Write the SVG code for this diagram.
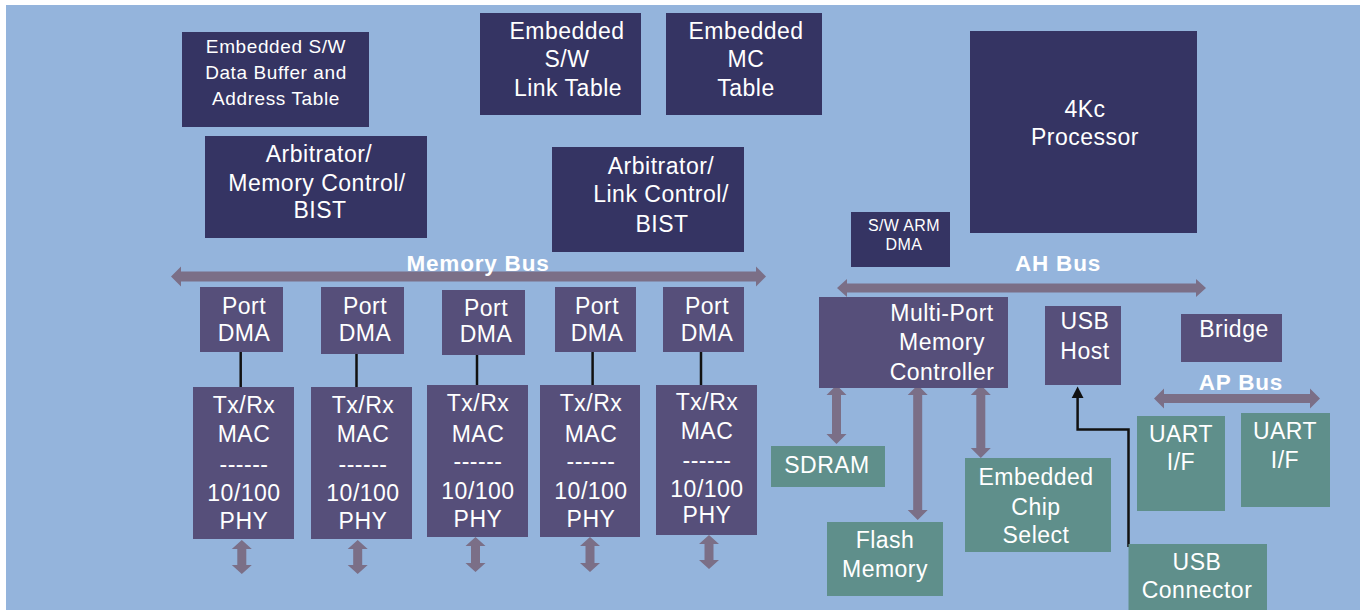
<svg xmlns="http://www.w3.org/2000/svg" width="1364" height="610" viewBox="0 0 1364 610">
<style>
.navy{fill:#353463}
.purp{fill:#564f7a}
.teal{fill:#5f8f8b}
.arr{fill:#7b6f87}
.ln{stroke:#111;stroke-width:2.5;fill:none}
text{font-family:"Liberation Sans",Arial,sans-serif;fill:#fff;text-anchor:middle;font-size:23px;letter-spacing:0.5px}
.sm{font-size:19px;letter-spacing:0.6px}
.xs{font-size:16px;letter-spacing:0.4px}
.bold{font-weight:bold;font-size:22.5px;letter-spacing:0.8px}
</style>
<rect x="0" y="0" width="1364" height="610" fill="#ffffff"/>
<rect x="6" y="5" width="1354" height="605" fill="#94b4dc"/>

<g id="connectors">
  <!-- Memory Bus -->
  <polygon class="arr" points="171,276.5 181,266.5 181,271.5 756,271.5 756,266.5 766,276.5 756,286.5 756,281.5 181,281.5 181,286.5"/>
  <!-- AH Bus -->
  <polygon class="arr" points="837,288 847,279 847,283.5 1196,283.5 1196,279 1206,288 1196,297 1196,292.5 847,292.5 847,297"/>
  <!-- AP Bus -->
  <polygon class="arr" points="1154,398.5 1164,388.5 1164,394 1310,394 1310,388.5 1320,398.5 1310,408.5 1310,403 1164,403 1164,408.5"/>
  <!-- Multi-port to SDRAM / Flash / Chip select -->
  <polygon class="arr" points="836.5,385 846.5,395 841,395 841,434 846.5,434 836.5,444 826.5,434 832,434 832,395 826.5,395"/>
  <polygon class="arr" points="917.7,385 927.7,395 922.2,395 922.2,510 927.7,510 917.7,520 907.7,510 913.2,510 913.2,395 907.7,395"/>
  <polygon class="arr" points="980.8,385 990.8,395 985.3,395 985.3,448 990.8,448 980.8,458 970.8,448 976.3,448 976.3,395 970.8,395"/>
  <!-- PHY arrows -->
  <polygon class="arr" points="241.8,540 251.8,549 246.3,549 246.3,565 251.8,565 241.8,574 231.8,565 237.3,565 237.3,549 231.8,549"/>
  <polygon class="arr" points="357.7,540 367.7,549 362.2,549 362.2,565 367.7,565 357.7,574 347.7,565 353.2,565 353.2,549 347.7,549"/>
  <polygon class="arr" points="475.5,537 485.5,546 480,546 480,563 485.5,563 475.5,572 465.5,563 471,563 471,546 465.5,546"/>
  <polygon class="arr" points="590,537 600,546 594.5,546 594.5,563 600,563 590,572 580,563 585.5,563 585.5,546 580,546"/>
  <polygon class="arr" points="709,535 719,544 713.5,544 713.5,560 719,560 709,569 699,560 704.5,560 704.5,544 699,544"/>
  <!-- Port DMA to Tx/Rx -->
  <line class="ln" x1="240.7" y1="352" x2="240.7" y2="388"/>
  <line class="ln" x1="356.5" y1="354" x2="356.5" y2="388"/>
  <line class="ln" x1="477" y1="355" x2="477" y2="386"/>
  <line class="ln" x1="592.6" y1="352" x2="592.6" y2="386"/>
  <line class="ln" x1="701" y1="352" x2="701" y2="386"/>
  <!-- USB connector to USB host -->
  <polyline class="ln" points="1128.5,547 1128.5,429.5 1077.6,429.5 1077.6,397"/>
  <polygon fill="#111" points="1077.6,386.5 1083.5,398 1071.7,398"/>
</g>

<g id="sw-data-buffer">
  <rect class="navy" x="182" y="32" width="187" height="95"/>
  <text class="sm" x="276" y="53">Embedded S/W</text>
  <text class="sm" x="276" y="79">Data Buffer and</text>
  <text class="sm" x="276" y="105">Address Table</text>
</g>
<g id="arb-mem">
  <rect class="navy" x="205" y="136" width="222" height="102"/>
  <text x="319" y="162">Arbitrator/</text>
  <text x="317" y="191">Memory Control/</text>
  <text x="320" y="218">BIST</text>
</g>
<g id="sw-link-table">
  <rect class="navy" x="480" y="13" width="161" height="102"/>
  <text x="567" y="39">Embedded</text>
  <text x="567" y="67">S/W</text>
  <text x="568" y="96">Link Table</text>
</g>
<g id="mc-table">
  <rect class="navy" x="666" y="13" width="156" height="102"/>
  <text x="746" y="39">Embedded</text>
  <text x="746" y="67">MC</text>
  <text x="746" y="96">Table</text>
</g>
<g id="arb-link">
  <rect class="navy" x="552" y="147" width="192" height="105"/>
  <text x="661" y="174">Arbitrator/</text>
  <text x="661" y="202">Link Control/</text>
  <text x="662" y="232">BIST</text>
</g>
<g id="processor">
  <rect class="navy" x="970" y="31" width="227" height="202"/>
  <text x="1085" y="117">4Kc</text>
  <text x="1085" y="145">Processor</text>
</g>
<g id="sw-arm-dma">
  <rect class="navy" x="851" y="212" width="99" height="55"/>
  <text class="xs" x="904" y="231">S/W ARM</text>
  <text class="xs" x="904" y="250">DMA</text>
</g>

<g id="bus-labels">
  <text class="bold" x="478" y="271">Memory Bus</text>
  <text class="bold" x="1058" y="271">AH Bus</text>
  <text class="bold" x="1241" y="390">AP Bus</text>
</g>

<g id="port1">
  <rect class="purp" x="200" y="287" width="83" height="65"/>
  <text x="244" y="314">Port</text>
  <text x="244" y="341">DMA</text>
</g>
<g id="port2">
  <rect class="purp" x="321" y="287" width="83" height="67"/>
  <text x="365" y="314">Port</text>
  <text x="365" y="341">DMA</text>
</g>
<g id="port3">
  <rect class="purp" x="442" y="290" width="83" height="65"/>
  <text x="486" y="316">Port</text>
  <text x="486" y="342">DMA</text>
</g>
<g id="port4">
  <rect class="purp" x="555" y="287" width="81" height="65"/>
  <text x="597" y="314">Port</text>
  <text x="597" y="341">DMA</text>
</g>
<g id="port5">
  <rect class="purp" x="663" y="287" width="81" height="65"/>
  <text x="707" y="314">Port</text>
  <text x="707" y="341">DMA</text>
</g>

<g id="mac1">
  <rect class="purp" x="193" y="387" width="101" height="152"/>
  <text x="244" y="413">Tx/Rx</text>
  <text x="244" y="442">MAC</text>
  <text x="244" y="472">------</text>
  <text x="244" y="501">10/100</text>
  <text x="244" y="529">PHY</text>
</g>
<g id="mac2">
  <rect class="purp" x="311" y="387" width="101" height="152"/>
  <text x="363" y="413">Tx/Rx</text>
  <text x="363" y="442">MAC</text>
  <text x="363" y="472">------</text>
  <text x="363" y="501">10/100</text>
  <text x="363" y="529">PHY</text>
</g>
<g id="mac3">
  <rect class="purp" x="427" y="385" width="101" height="152"/>
  <text x="478" y="411">Tx/Rx</text>
  <text x="478" y="442">MAC</text>
  <text x="478" y="469">------</text>
  <text x="478" y="499">10/100</text>
  <text x="478" y="527">PHY</text>
</g>
<g id="mac4">
  <rect class="purp" x="540" y="385" width="100" height="152"/>
  <text x="591" y="411">Tx/Rx</text>
  <text x="591" y="442">MAC</text>
  <text x="591" y="469">------</text>
  <text x="591" y="499">10/100</text>
  <text x="591" y="527">PHY</text>
</g>
<g id="mac5">
  <rect class="purp" x="656" y="385" width="101" height="150"/>
  <text x="707" y="410">Tx/Rx</text>
  <text x="707" y="439">MAC</text>
  <text x="707" y="468">------</text>
  <text x="707" y="497">10/100</text>
  <text x="707" y="523">PHY</text>
</g>

<g id="multi-port">
  <rect class="purp" x="819" y="297" width="189" height="91"/>
  <text x="942" y="321">Multi-Port</text>
  <text x="942" y="350">Memory</text>
  <text x="942" y="380">Controller</text>
</g>
<g id="usb-host">
  <rect class="purp" x="1045" y="306" width="76" height="79"/>
  <text x="1085" y="329">USB</text>
  <text x="1085" y="359">Host</text>
</g>
<g id="bridge">
  <rect class="purp" x="1181" y="314" width="101" height="48"/>
  <text x="1234" y="337">Bridge</text>
</g>
<g id="uart1">
  <rect class="teal" x="1137" y="416" width="88" height="95"/>
  <text x="1181" y="442">UART</text>
  <text x="1181" y="470">I/F</text>
</g>
<g id="uart2">
  <rect class="teal" x="1241" y="413" width="89" height="94"/>
  <text x="1285" y="439">UART</text>
  <text x="1285" y="468">I/F</text>
</g>
<g id="sdram">
  <rect class="teal" x="771" y="446" width="114" height="41"/>
  <text x="827" y="473">SDRAM</text>
</g>
<g id="flash">
  <rect class="teal" x="827" y="522" width="116" height="74"/>
  <text x="885" y="548">Flash</text>
  <text x="885" y="577">Memory</text>
</g>
<g id="chip-select">
  <rect class="teal" x="965" y="458" width="146" height="94"/>
  <text x="1036" y="485">Embedded</text>
  <text x="1036" y="515">Chip</text>
  <text x="1036" y="543">Select</text>
</g>
<g id="usb-connector">
  <rect class="teal" x="1128.5" y="544" width="138.5" height="66"/>
  <text x="1197" y="570">USB</text>
  <text x="1197" y="598">Connector</text>
</g>
</svg>
